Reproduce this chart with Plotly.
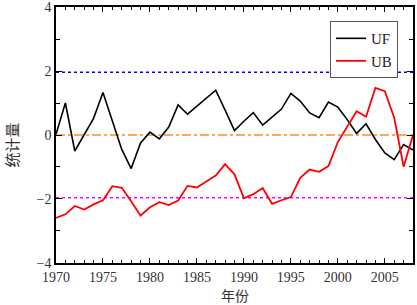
import plotly.graph_objects as go

years = list(range(1970, 2009))
uf = [0.02, 1.0, -0.5, 0.02, 0.52, 1.33, 0.43, -0.45, -1.05, -0.25,
      0.09, -0.12, 0.25, 0.94, 0.65, 0.9, 1.15, 1.4, 0.78, 0.14,
      0.43, 0.7, 0.31, 0.56, 0.81, 1.3, 1.06, 0.69, 0.54, 1.03,
      0.87, 0.48, 0.05, 0.35, -0.14, -0.56, -0.77, -0.3, -0.47]
ub = [-2.59, -2.48, -2.22, -2.33, -2.17, -2.04, -1.6, -1.65, -2.07, -2.52,
      -2.26, -2.1, -2.19, -2.05, -1.59, -1.64, -1.45, -1.27, -0.91, -1.23,
      -1.98, -1.85, -1.66, -2.15, -2.04, -1.94, -1.34, -1.08, -1.15, -0.97,
      -0.22, 0.28, 0.74, 0.57, 1.47, 1.37, 0.54, -0.99, 0.0]
crit_upper = 1.96
crit_lower = -1.96
x_range = [1970, 2008]
y_range = [-4, 4]

fig = go.Figure()
for yv, col, dash in [(crit_upper, "#0000FF", "dot"), (0, "#FF8C1A", "dashdot"), (crit_lower, "#FF00FF", "dot")]:
    fig.add_trace(go.Scatter(x=x_range, y=[yv, yv], mode="lines",
                             line=dict(color=col, width=1.5, dash=dash),
                             showlegend=False, hoverinfo="skip"))
fig.add_trace(go.Scatter(x=years, y=uf, mode="lines", name="UF",
                         line=dict(color="black", width=1.6)))
fig.add_trace(go.Scatter(x=years, y=ub, mode="lines", name="UB",
                         line=dict(color="#FF0000", width=1.8)))

serif = "Liberation Serif"
cjk = "Noto Sans CJK SC"
fig.update_layout(
    width=417, height=305,
    margin=dict(l=56, r=4, t=7, b=42, autoexpand=False),
    plot_bgcolor="white", paper_bgcolor="white",
    font=dict(family=serif, size=14, color="#333333"),
    legend=dict(x=0.7675, y=0.945, xanchor="left", yanchor="top",
                bgcolor="white", bordercolor="#555555", borderwidth=1,
                font=dict(family=serif, size=15, color="#222222"),
                tracegroupgap=0, itemwidth=30),
    xaxis=dict(range=x_range, dtick=5, tick0=1970, ticks="inside", ticklen=5,
               tickwidth=1, tickcolor="black", automargin=False,
               ticklabeloverflow="allow",
               minor=dict(ticks="inside", dtick=1, ticklen=3, tickcolor="black"),
               showline=True, linecolor="black", linewidth=1.5, mirror="ticks",
               showgrid=False, zeroline=False),
    yaxis=dict(range=[y_range[0] - 0.001, y_range[1] + 0.001], dtick=2, tick0=0,
               ticks="inside", ticklen=6, ticklabeloverflow="allow",
               tickwidth=1, tickcolor="black", automargin=False,
               minor=dict(ticks="inside", dtick=1, ticklen=4, tickcolor="black"),
               showline=True, linecolor="black", linewidth=1.5, mirror="ticks",
               showgrid=False, zeroline=False),
    annotations=[
        dict(text="年份", xref="paper", yref="paper", x=0.5, y=-0.125,
             xanchor="center", yanchor="middle", showarrow=False,
             font=dict(family=cjk, size=14, color="#333333")),
        dict(text="统计量", xref="paper", yref="paper", x=-0.125, y=0.46,
             xanchor="center", yanchor="middle", showarrow=False, textangle=-90,
             font=dict(family=cjk, size=15, color="#333333")),
    ],
)
fig.write_html("out.html", config={"displayModeBar": False},
               post_script="document.body.style.margin='0';document.body.style.overflow='hidden';")
